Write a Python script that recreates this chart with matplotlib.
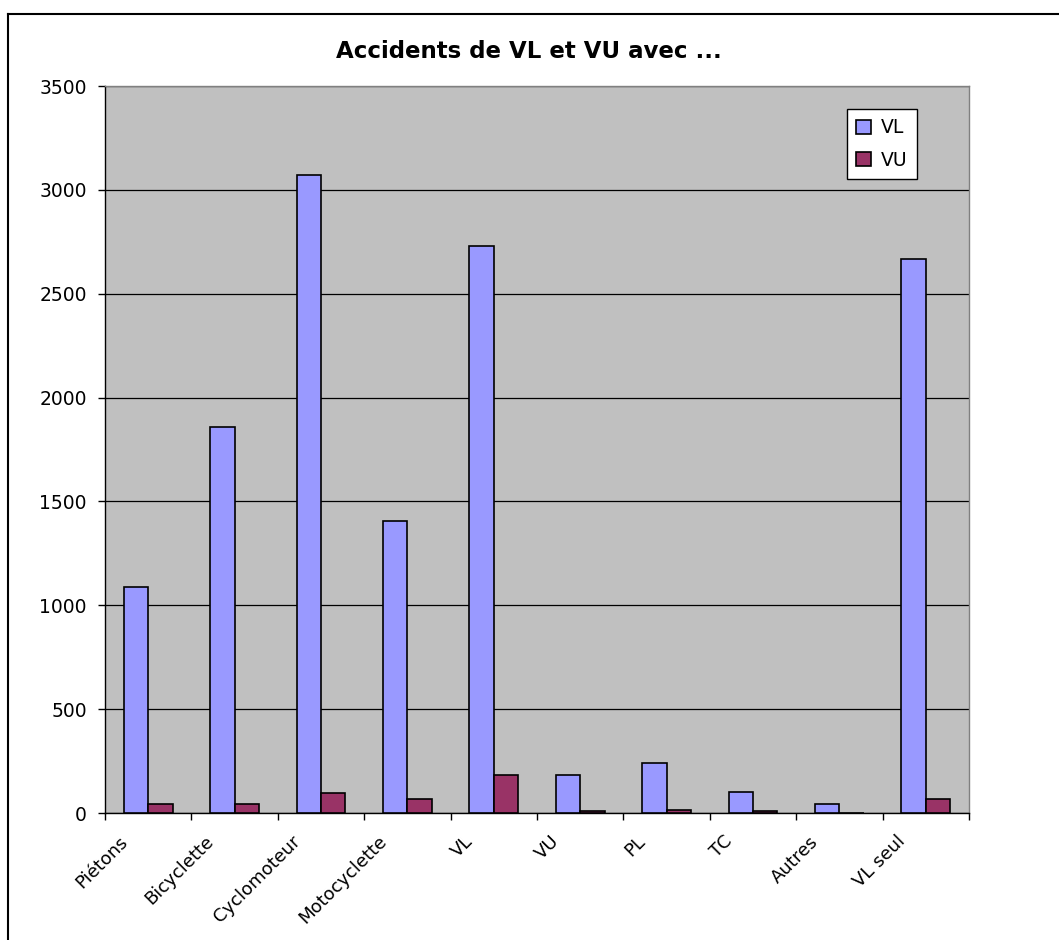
import numpy as np
import matplotlib.pyplot as plt
from matplotlib.lines import Line2D
from matplotlib.transforms import ScaledTranslation

categories = ["Piétons", "Bicyclette", "Cyclomoteur", "Motocyclette", "VL",
              "VU", "PL", "TC", "Autres", "VL seul"]
vl = [1090, 1860, 3070, 1405, 2730, 185, 240, 100, 45, 2665]
vu = [45, 45, 95, 68, 185, 10, 15, 10, 0, 68]

plt.rcParams['font.family'] = ['DejaVu Sans']

fig = plt.figure(figsize=(10.59, 9.40), dpi=100)
ax = fig.add_axes([0.0992, 0.1351, 0.8158, 0.7734])
ax.set_facecolor("#C0C0C0")

x = np.arange(len(categories))
w = 0.283
ax.bar(x - w / 2, vl, w, color="#9999FF", edgecolor="black", linewidth=1.2, label="VL", zorder=3)
ax.bar(x + w / 2, vu, w, color="#993366", edgecolor="black", linewidth=1.2, label="VU", zorder=3)

ax.set_xlim(-0.5, len(categories) - 0.5)
ax.set_ylim(0, 3500)
ax.set_yticks(np.arange(0, 3501, 500))
ax.yaxis.grid(True, color="black", linewidth=0.9, zorder=1)
ax.tick_params(axis="y", labelsize=13.5, length=5, width=1, direction="out", pad=8)

# ticks between categories, labels at centres
ax.set_xticks(np.arange(-0.5, len(categories), 1.0))
ax.set_xticklabels([])
ax.set_xticks(x, minor=True)
ax.set_xticklabels(categories, minor=True, rotation=45, ha="right", va="top",
                   rotation_mode="anchor", fontsize=13)
ax.tick_params(axis="x", which="minor", length=0, pad=14)
ax.tick_params(axis="x", which="major", length=5, width=1, direction="out")
shift = ScaledTranslation(-0.3, 0, fig.dpi_scale_trans)
for lab in ax.get_xticklabels(minor=True):
    lab.set_transform(lab.get_transform() + shift)

for s in ["left", "bottom"]:
    ax.spines[s].set_color("black")
    ax.spines[s].set_linewidth(1)
for s in ["top", "right"]:
    ax.spines[s].set_color("#808080")
    ax.spines[s].set_linewidth(1)

fig.text(0.499, 1 - 52 / 940, "Accidents de VL et VU avec ...", ha="center", va="center",
         fontsize=16.5, fontweight="bold")

leg = ax.legend(loc="upper left", bbox_to_anchor=(847 / 1059, 1 - 109 / 940),
                bbox_transform=fig.transFigure, borderaxespad=0, fontsize=13.5, frameon=True,
                fancybox=False, edgecolor="black", facecolor="white", framealpha=1,
                handlelength=0.8, handleheight=0.8, handletextpad=0.5, borderpad=0.5,
                labelspacing=0.7)
leg.get_frame().set_linewidth(1)

# outer chart border (open on right/bottom as in the source)
fig.add_artist(Line2D([8 / 1059, 8 / 1059], [0, 1 - 14 / 940], color="black", lw=1.5,
                      transform=fig.transFigure))
fig.add_artist(Line2D([8 / 1059, 1], [1 - 14 / 940, 1 - 14 / 940], color="black", lw=1.5,
                      transform=fig.transFigure))

fig.savefig("out.png", dpi=100)
